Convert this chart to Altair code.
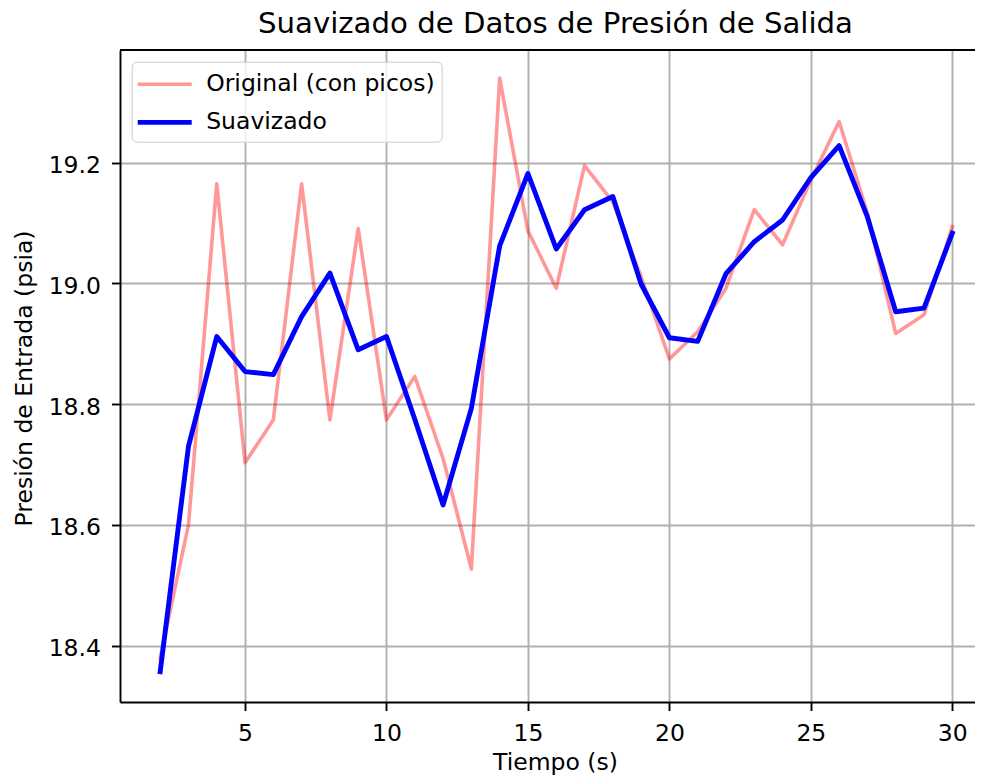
import altair as alt
import pandas as pd

# ---- data ----
tiempo = list(range(2, 31))
original = [18.38, 18.60, 19.165, 18.703, 18.774, 19.165, 18.774, 19.091, 18.774,
            18.846, 18.71, 18.527, 19.34, 19.087, 18.992, 19.195, 19.135, 19.011,
            18.875, 18.92, 18.992, 19.122, 19.064, 19.171, 19.268, 19.116, 18.917,
            18.948, 19.094]
suavizado = [18.357, 18.73, 18.912, 18.854, 18.849, 18.945, 19.017, 18.89, 18.912,
             18.775, 18.633, 18.793, 19.062, 19.182, 19.057, 19.122, 19.144, 18.999,
             18.91, 18.904, 19.016, 19.069, 19.105, 19.175, 19.228, 19.11, 18.953,
             18.959, 19.083]
x_ticks = [5, 10, 15, 20, 25, 30]
y_ticks = [18.4, 18.6, 18.8, 19.0, 19.2]
series = ["Original (con picos)", "Suavizado"]
titulo = ["Suavizado de Datos de Presión de Salida"]

df = pd.DataFrame({
    "t": tiempo * 2,
    "v": original + suavizado,
    "serie": [series[0]] * len(tiempo) + [series[1]] * len(tiempo),
})

W, H = 855, 652
FONT = "DejaVu Sans"
XMIN = 0.58
XMAX = XMIN + W / 28.29
YMIN, YMAX = 18.3068, 19.3865

lines = alt.Chart(df).mark_line(strokeCap="square", strokeJoin="round").encode(
    x=alt.X("t:Q", scale=alt.Scale(domain=[XMIN, XMAX], nice=False, zero=False),
            axis=alt.Axis(values=x_ticks, title="Tiempo (s)", format="d",
                          titleX=435, titleY=67, titleBaseline="alphabetic")),
    y=alt.Y("v:Q", scale=alt.Scale(domain=[YMIN, YMAX], nice=False, zero=False),
            axis=alt.Axis(values=y_ticks, title="Presión de Entrada (psia)", format=".1f",
                          labelOffset=3, titleX=-88.5, titleY=328, titleAngle=270,
                          titleBaseline="alphabetic")),
    color=alt.Color("serie:N", scale=alt.Scale(domain=series, range=["red", "blue"]),
                    legend=alt.Legend(title=None)),
    opacity=alt.Opacity("serie:N", scale=alt.Scale(domain=series, range=[0.4, 1.0]),
                        legend=alt.Legend(title=None)),
    strokeWidth=alt.StrokeWidth("serie:N", scale=alt.Scale(domain=series, range=[3.6, 4.9]),
                                legend=alt.Legend(title=None)),
)

top_border = alt.Chart(pd.DataFrame({"a": [0]})).mark_rule(color="black", strokeWidth=1.9).encode(
    x=alt.value(0), x2=alt.value(W), y=alt.value(0)
)

title_text = alt.Chart(pd.DataFrame({"titulo": titulo})).mark_text(
    font=FONT, fontSize=29.2, color="black", align="center", baseline="alphabetic"
).encode(
    text="titulo:N", x=alt.value(435.5), y=alt.value(-17.3)
)

chart = alt.layer(lines, top_border, title_text).properties(
    width=W, height=H,
    autosize=alt.AutoSizeParams(type="none"),
    padding={"left": 112, "top": 42, "right": 0, "bottom": 76},
).configure_view(stroke=None).configure_axis(
    labelFont=FONT, labelFontSize=23.5, labelColor="black",
    titleFont=FONT, titleFontSize=23.5, titleColor="black", titleFontWeight="normal",
    domainColor="black", domainWidth=1.9,
    tickColor="black", tickWidth=1.9, tickSize=8.5,
    labelPadding=11, grid=True, gridColor="#b0b0b0", gridWidth=1.9,
).configure_legend(
    orient="none", legendX=11.7, legendY=11.7,
    symbolType="M-2,0H2", symbolSize=729,
    labelFont=FONT, labelFontSize=23.5, labelColor="black", labelLimit=0,
    padding=7, rowPadding=10.7, symbolOffset=10, labelOffset=25.5,
    strokeColor="#cccccc", fillColor="rgba(255,255,255,0.8)", cornerRadius=5,
)

chart.save("out.html", embed_options={"renderer": "svg", "actions": False})
